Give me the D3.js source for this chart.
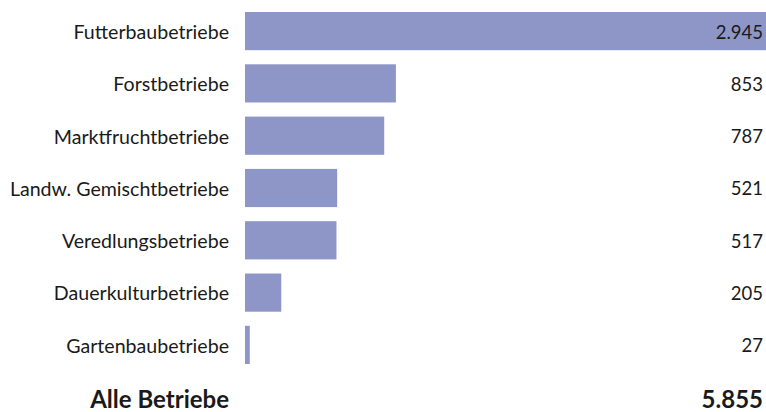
<!DOCTYPE html>
<html lang="de">
  <head>
    <meta charset="utf-8">
    <title>Betriebe</title>
    <script src="https://d3js.org/d3.v7.min.js"></script>
    <style>
      body { margin: 0; background: #fff; }
      text { font-family: Lato, sans-serif; fill: #1a1a1a; }
    </style>
  </head>
  <body>
    <div id="main"></div>
    <script>
      // Data
      const categories = ['Futterbaubetriebe', 'Forstbetriebe', 'Marktfruchtbetriebe',
        'Landw. Gemischtbetriebe', 'Veredlungsbetriebe', 'Dauerkulturbetriebe', 'Gartenbaubetriebe'];
      const values = [2945, 853, 787, 521, 517, 205, 27];
      const totalLabel = 'Alle Betriebe';
      const totalValue = 5855;

      const width = 766, height = 412;
      const fmt = d3.formatLocale({ decimal: ',', thousands: '.', grouping: [3], currency: ['', '€'] }).format(',d');

      const svg = d3.select('#main').append('svg')
        .attr('width', width)
        .attr('height', height);

      const y = d3.scaleBand()
        .domain(categories)
        .range([12, 364])
        .paddingInner(0.27);

      const x = d3.scaleLinear()
        .domain([0, d3.max(values)])
        .range([245, 766]);

      const rows = categories.map((c, i) => ({ cat: c, val: values[i] }));

      svg.selectAll('rect.bar')
        .data(rows)
        .join('rect')
          .attr('class', 'bar')
          .attr('x', x(0))
          .attr('y', d => y(d.cat))
          .attr('width', d => x(d.val) - x(0))
          .attr('height', y.bandwidth())
          .attr('fill', '#8e96c7');

      svg.selectAll('text.cat')
        .data(rows)
        .join('text')
          .attr('class', 'cat')
          .attr('x', 229)
          .attr('y', d => y(d.cat) + y.bandwidth() / 2 + 1)
          .attr('dy', '0.35em')
          .attr('text-anchor', 'end')
          .style('font-size', '19.6px')
          .text(d => d.cat);

      svg.selectAll('text.val')
        .data(rows)
        .join('text')
          .attr('class', 'val')
          .attr('x', 763)
          .attr('y', d => y(d.cat) + y.bandwidth() / 2 + 1)
          .attr('dy', '0.35em')
          .attr('text-anchor', 'end')
          .style('font-size', '18.5px')
          .text(d => fmt(d.val));

      // total row
      const totalY = y(categories[categories.length - 1]) + y.step() + y.bandwidth() / 2 + 2;
      svg.append('text')
        .attr('x', 229)
        .attr('y', totalY)
        .attr('dy', '0.35em')
        .attr('text-anchor', 'end')
        .style('font-size', '24px')
        .style('font-weight', 'bold')
        .text(totalLabel);
      svg.append('text')
        .attr('x', 763)
        .attr('y', totalY)
        .attr('dy', '0.35em')
        .attr('text-anchor', 'end')
        .style('font-size', '24px')
        .style('font-weight', 'bold')
        .text(fmt(totalValue));
    </script>
  </body>
</html>
